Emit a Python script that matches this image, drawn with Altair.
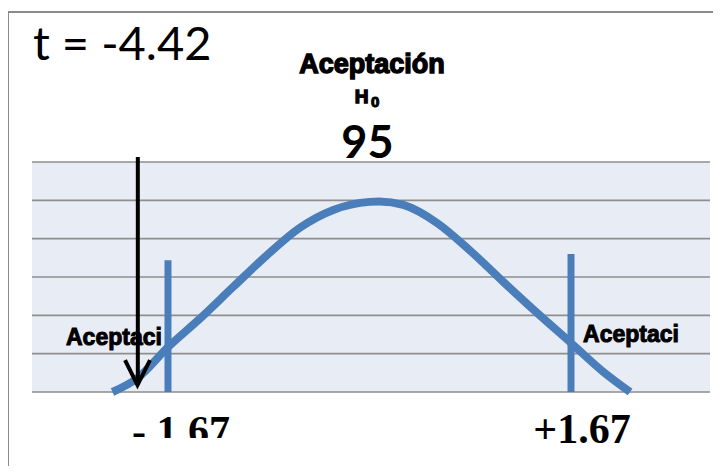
import altair as alt
import pandas as pd

# Bell curve (t units, height in grid units)
curve_x = [-2.13, -1.92, -1.67, -1.40, -1.13, -0.85, -0.58, -0.30, 0.0, 0.08, 0.28, 0.56, 0.83, 1.11, 1.39, 1.67, 1.94, 2.16]
curve_y = [0.0, 0.37, 1.17, 1.93, 2.74, 3.57, 4.28, 4.75, 4.96, 4.97, 4.88, 4.41, 3.70, 2.87, 2.06, 1.28, 0.52, 0.0]

# Critical values
crit_x = [-1.67, 1.67]
crit_top = [3.44, 3.60]

# Arrow for t statistic
arrow_x = -1.92
arrow_top = 6.13
arrow_tip = 0.18
head_x = [-2.026, -1.923, -1.819]
head_y = [0.83, 0.18, 0.83]

grid_vals = [0, 1, 2, 3, 4, 5, 6]
X_MIN, X_MAX = -2.797, 2.822

BLUE = "#4A7EBB"

xs = alt.Scale(domain=[X_MIN, X_MAX], nice=False, zero=False)
ys = alt.Scale(domain=[0, 6], nice=False, zero=False)

def X(f="x"):
    return alt.X(f"{f}:Q", scale=xs, axis=None)

def Y(f="y"):
    return alt.Y(f"{f}:Q", scale=ys, axis=None)

border = alt.Chart(pd.DataFrame({"x": [-2.996], "x2": [3.6], "y": [9.914], "y2": [-3.0]})).mark_rect(
    fillOpacity=0, stroke="#8a8a8a", strokeWidth=2
).encode(x=X(), x2="x2:Q", y=Y(), y2="y2:Q")

grid = alt.Chart(pd.DataFrame({"y": grid_vals, "x": [X_MIN] * len(grid_vals), "x2": [X_MAX] * len(grid_vals)})).mark_rule(
    color="#8e8e8e", strokeWidth=1.6
).encode(x=X(), x2="x2:Q", y=Y())

curve = alt.Chart(pd.DataFrame({"x": curve_x, "y": curve_y})).mark_line(
    color=BLUE, strokeWidth=8, interpolate="monotone", strokeCap="butt"
).encode(x=X(), y=Y())

crit = alt.Chart(pd.DataFrame({"x": crit_x, "y": [0, 0], "y2": crit_top})).mark_rule(
    color=BLUE, strokeWidth=7
).encode(x=X(), y=Y(), y2="y2:Q")

arrow = alt.Chart(pd.DataFrame({"x": [arrow_x], "y": [arrow_top], "y2": [arrow_tip]})).mark_rule(
    color="black", strokeWidth=4
).encode(x=X(), y=Y(), y2="y2:Q")

head = alt.Chart(pd.DataFrame({"x": head_x, "y": head_y, "o": [0, 1, 2]})).mark_line(
    color="black", strokeWidth=4, strokeJoin="miter"
).encode(x=X(), y=Y(), order="o:Q")

def label(texts, xv, yv, **kw):
    return alt.Chart(pd.DataFrame({"x": xv, "y": yv, "t": texts})).mark_text(**kw).encode(
        x=X(), y=Y(), text="t:N")

t_txt = label(["t = -4.42"], [-2.789], [8.66], font="Lato", fontSize=47, align="left", baseline="alphabetic", color="black")
acep = label(["Aceptación"], [0.02], [8.32], font="Liberation Sans", fontWeight="bold", fontSize=27, align="center",
             baseline="alphabetic", color="black", stroke="black", strokeWidth=1.4)
h_txt = label(["H"], [-0.008], [7.55], font="Liberation Sans", fontWeight="bold", fontSize=19, align="right",
              baseline="alphabetic", color="black", stroke="black", strokeWidth=1.4)
sub0 = label(["0"], [0.012], [7.44], font="Liberation Sans", fontWeight="bold", fontSize=15, align="left",
             baseline="alphabetic", color="black", stroke="black", strokeWidth=1.1)
n95 = label(["95"], [-0.017], [6.10], font="Lato", fontWeight="bold", fontSize=45, align="center",
            baseline="alphabetic", color="black")
side = label(["Aceptaci", "Aceptaci"], [-2.118, 2.167], [1.226, 1.30], font="Liberation Sans",
             fontWeight="bold", fontSize=23, align="center", baseline="alphabetic", color="black",
             stroke="black", strokeWidth=1)
crit_lab = label(["- 1.67", "+1.67"], [-1.562, 1.761], [-1.38, -1.33], font="Liberation Serif", fontWeight="bold",
                 fontSize=42, align="center", baseline="alphabetic", color="black")

cover = alt.Chart(pd.DataFrame({"x": [-2.0], "x2": [-1.1], "y": [-1.2], "y2": [-2.3]})).mark_rect(
    color="white"
).encode(x=X(), x2="x2:Q", y=Y(), y2="y2:Q")

chart = alt.layer(border, grid, curve, crit, arrow, head, t_txt, acep, h_txt, sub0, n95, side, crit_lab, cover).properties(
    width=678, height=230,
    autosize=alt.AutoSizeParams(type="none"),
    padding={"left": 24, "top": 154, "right": 3, "bottom": 74},
    background="white",
).configure_view(fill="#E8ECF4", stroke=None)

chart.save("out.html", embed_options={"renderer": "svg", "actions": False})
